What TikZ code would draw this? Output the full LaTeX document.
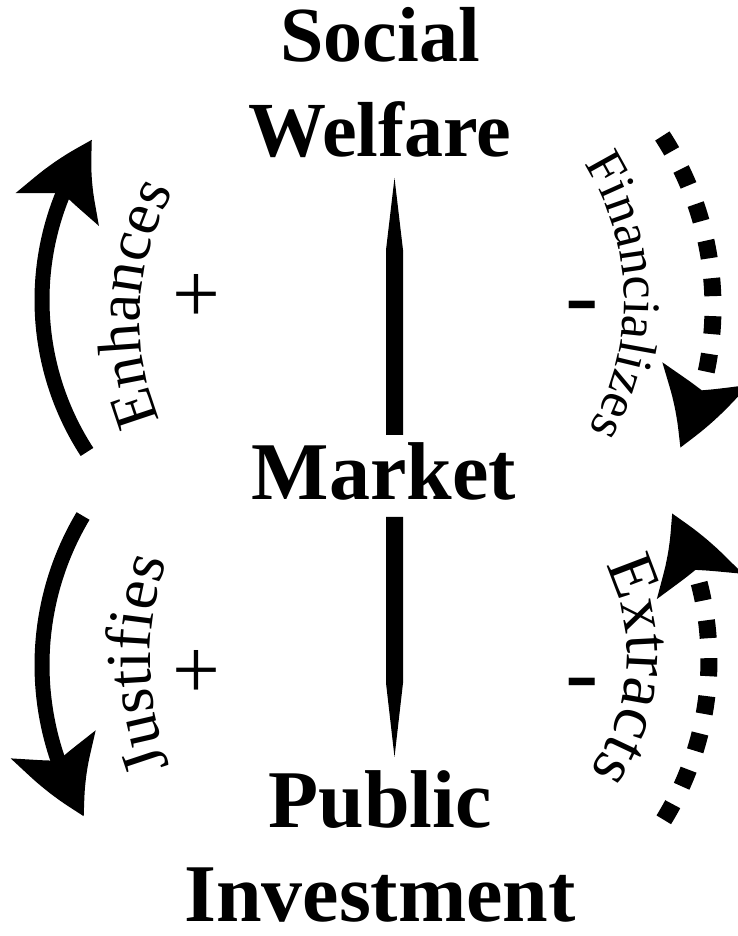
\documentclass[tikz,border=0pt]{standalone}
\usepackage{fontspec}
\setmainfont{Liberation Serif}
\usetikzlibrary{arrows.meta,bending,decorations.text}
\tikzset{
  big/.style={font=\bfseries\fontsize{78}{78}\selectfont, inner sep=0pt, anchor=base},
  bigger/.style={big, font=\bfseries\fontsize{82}{82}\selectfont},
  plussign/.style={font=\fontsize{85}{85}\selectfont, inner sep=0pt},
  minussign/.style={font=\fontsize{100}{100}\selectfont, inner sep=0pt},
  bighead/.style={-{Stealth[length=78pt,width=86pt,inset=16pt,bend]}},
  solidarc/.style={line width=15pt, bighead},
  dasharc/.style={line width=17pt, dash pattern=on 18pt off 20pt, bighead},
  barfill/.style={fill=black, draw=none},
  arctext/.style={decorate, decoration={text along path, text align=center, text={#1}}}
}
\begin{document}
\begin{tikzpicture}[x=1pt,y=1pt]
\useasboundingbox (0,0) rectangle (737,936);
% main labels
\node[big] (social) at (380,874) {Social};
\node[big] (welfare) at (380,779) {Welfare};
\node[bigger] (market) at (384,436) {Market};
\node[bigger] (public) at (380,108) {Public};
\node[bigger] (invest) at (380,14) {Investment};
% signs
\node[plussign] (p1) at (196,637) {+};
\node[plussign] (p2) at (196,262) {+};
\node[minussign] (m1) at (582,621) {-};
\node[minussign] (m2) at (582,244) {-};
% vertical bars (pointed)
\coordinate (b1a) at (394.5,501); \coordinate (b1b) at (394.5,758);
\fill[barfill] ([xshift=-8.5pt]b1a) -- ([xshift=-8.5pt,yshift=-72pt]b1b) -- (b1b)
  -- ([xshift=8.5pt,yshift=-72pt]b1b) -- ([xshift=8.5pt]b1a) -- cycle;
\coordinate (b2a) at (394.5,419); \coordinate (b2b) at (394.5,179);
\fill[barfill] ([xshift=-8.5pt]b2a) -- ([xshift=-8.5pt,yshift=74pt]b2b) -- (b2b)
  -- ([xshift=8.5pt,yshift=74pt]b2b) -- ([xshift=8.5pt]b2a) -- cycle;
% arc arrows
\coordinate (cul) at (321,636);
\draw[solidarc] ([shift={(213:279pt)}]cul) arc[start angle=213, end angle=145, radius=279pt];
\coordinate (cll) at (333,271);
\draw[solidarc] ([shift={(149.2:291pt)}]cll) arc[start angle=149.2, end angle=211.3, radius=291pt];
\coordinate (cur) at (399,629);
\draw[dasharc] ([shift={(33:314pt)}]cur) arc[start angle=33, end angle=-26.6, radius=314pt];
\coordinate (clr) at (404,276);
\draw[dasharc] ([shift={(-31.6:305pt)}]clr) arc[start angle=-31.6, end angle=28.7, radius=305pt];
% curved labels
\coordinate (ce) at (400,616);
\path[arctext={|\fontsize{62}{62}\selectfont|Enhances}] ([shift={(205:260pt)}]ce) arc[start angle=205, end angle=148, radius=260pt];
\coordinate (cf) at (369,636);
\path[arctext={|\fontsize{53}{53}\selectfont|Financializes}] ([shift={(37:255pt)}]cf) arc[start angle=37, end angle=-35, radius=255pt];
\coordinate (cj) at (450,276);
\path[arctext={|\fontsize{64}{64}\selectfont|Justifies}] ([shift={(202:300pt)}]cj) arc[start angle=202, end angle=159.5, radius=300pt];
\coordinate (cx) at (427,281);
\path[arctext={|\fontsize{66}{66}\selectfont|Extracts}] ([shift={(30:200pt)}]cx) arc[start angle=30, end angle=-38.7, radius=200pt];
\end{tikzpicture}
\end{document}
